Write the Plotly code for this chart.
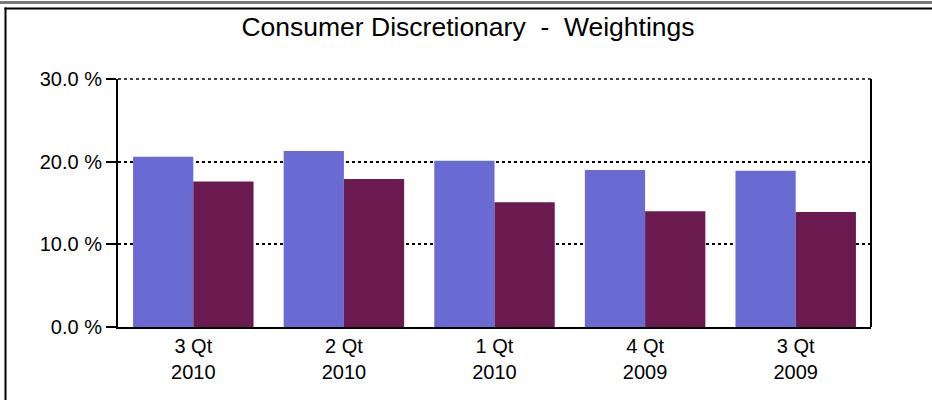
import plotly.graph_objects as go

categories = ["3 Qt<br>2010", "2 Qt<br>2010", "1 Qt<br>2010", "4 Qt<br>2009", "3 Qt<br>2009"]
series_a = [20.6, 21.3, 20.1, 19.0, 18.9]
series_b = [17.6, 17.9, 15.1, 14.0, 13.9]
y_ticks = [0, 10, 20, 30]
y_tick_labels = ["0.0 %", "10.0 %", "20.0 %", "30.0 %"]

FONT = "Arial, Liberation Sans, sans-serif"

fig = go.Figure()
fig.add_trace(go.Bar(x=categories, y=series_a, marker=dict(color="#6A6BD2", line=dict(width=0)), showlegend=False))
fig.add_trace(go.Bar(x=categories, y=series_b, marker=dict(color="#6A1A4F", line=dict(width=0)), showlegend=False))

fig.update_layout(
    width=932, height=400,
    margin=dict(l=118, r=61, t=79, b=73),
    paper_bgcolor="white", plot_bgcolor="white",
    barmode="group", bargap=0.2, bargroupgap=0,
    font=dict(family=FONT, size=20, color="black"),
    title=dict(text="Consumer Discretionary &nbsp;- &nbsp;Weightings", x=468 / 932, xref="container", xanchor="center",
               y=1 - 27 / 400, yref="container", yanchor="middle",
               font=dict(family=FONT, size=26.5, color="black")),
)
fig.update_xaxes(showline=True, linecolor="black", linewidth=2, ticks="", showgrid=False,
                 tickfont=dict(family=FONT, size=20, color="black"))
fig.update_yaxes(range=[0, 30], tickvals=y_ticks, ticktext=y_tick_labels, showline=True, linecolor="black",
                 linewidth=2, ticks="outside", ticklen=10, tickwidth=2, tickcolor="black",
                 showgrid=True, gridcolor="black", gridwidth=1.5, griddash="dot", zeroline=False,
                 tickfont=dict(family=FONT, size=20, color="black"))

H = 248.0
W = 753.0
def py(p):
    return (327 - p) / H
def px(p):
    return (p - 118) / W

shapes = [
    dict(type="line", xref="paper", yref="paper", x0=0, x1=1, y0=1, y1=1, line=dict(color="black", width=1.5, dash="dot")),
    dict(type="line", xref="paper", yref="paper", x0=1, x1=1, y0=0, y1=1, line=dict(color="black", width=2)),
    dict(type="rect", xref="paper", yref="paper", x0=px(0), x1=px(932), y0=py(4), y1=py(1), line=dict(width=0), fillcolor="#7a7a7a", layer="above"),
    dict(type="rect", xref="paper", yref="paper", x0=px(4.5), x1=px(932), y0=py(9.5), y1=py(7.5), line=dict(width=0), fillcolor="black", layer="above"),
    dict(type="rect", xref="paper", yref="paper", x0=px(4.5), x1=px(6.5), y0=py(400), y1=py(7.5), line=dict(width=0), fillcolor="black", layer="above"),
]
fig.update_layout(shapes=shapes)

fig.write_html("out.html", config={"displayModeBar": False},
               post_script="document.body.style.margin='0';document.body.style.overflow='hidden';")
